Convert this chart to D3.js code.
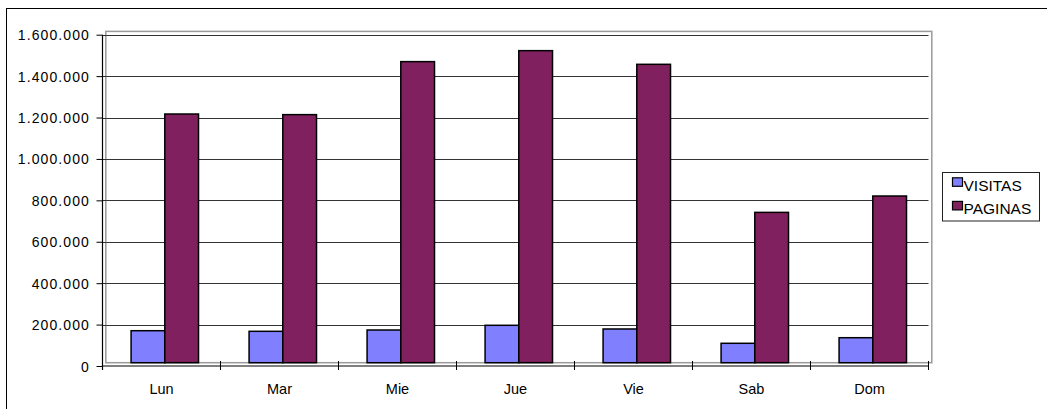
<!DOCTYPE html>
<html>
<head>
<meta charset="utf-8">
<script src="https://cdn.jsdelivr.net/npm/d3@7"></script>
<style>
  body { margin: 0; background: #fff; }
  svg text { font-family: 'Liberation Sans', Arial, sans-serif; fill: #000; }
</style>
</head>
<body>
<svg class="visitasSVG" width="1047" height="409"></svg>
<script>
// values
const days = ['Lun', 'Mar', 'Mie', 'Jue', 'Vie', 'Sab', 'Dom'];
const series = ['VISITAS', 'PAGINAS'];
const visitas = [154500, 151600, 157900, 180600, 162800, 93700, 120700];
const paginas = [1201000, 1198000, 1454000, 1507000, 1441000, 726000, 805000];
const yTicks = [0, 200000, 400000, 600000, 800000, 1000000, 1200000, 1400000, 1600000];

const colors = { VISITAS: '#8080ff', PAGINAS: '#80205f' };

function drawChart(){
  const svg = d3.select('svg.visitasSVG');

  // outer frame (only left and top edges are inside the picture)
  svg.append('rect')
    .attr('x', 6.5).attr('y', 8.5)
    .attr('width', 1200).attr('height', 600)
    .style('fill', 'none').style('stroke', '#000').style('stroke-width', 1);

  const left = 102.5, right = 928.5, top = 34.7, bottom = 366;
  const depth = 3.3; // excel's fake 3d: bars and wall sit up-right of the axes

  const x = d3.scaleBand()
    .domain(days)
    .range([left, right])
    .paddingInner(3 / 7)
    .paddingOuter(1.5 / 7);

  const xSub = d3.scaleBand()
    .domain(series)
    .range([0, x.bandwidth()]);

  const y = d3.scaleLinear()
    .domain([0, 1600000])
    .range([bottom, top]);

  const fmt = d3.formatLocale({ decimal: ',', thousands: '.', grouping: [3], currency: ['', '€'] }).format(',d');

  // back wall
  svg.append('rect')
    .attr('x', left + depth).attr('y', top - depth)
    .attr('width', right - left).attr('height', bottom - top)
    .style('fill', 'none').style('stroke', '#9a9a9a').style('stroke-width', 1.5);

  // gridlines
  svg.append('g')
    .selectAll('line')
    .data(yTicks.filter(d => d > 0))
    .enter()
    .append('line')
    .attr('x1', left).attr('x2', right)
    .attr('y1', d => Math.round(y(d)) + 0.5)
    .attr('y2', d => Math.round(y(d)) + 0.5)
    .style('stroke', '#333').style('stroke-width', 1);

  // bars
  const rows = days.map((d, i) => ({ day: d, VISITAS: visitas[i], PAGINAS: paginas[i] }));

  svg.append('g')
    .attr('transform', `translate(${depth},${-depth})`)
    .selectAll('g')
    .data(rows)
    .enter()
    .append('g')
    .attr('transform', d => `translate(${x(d.day)},0)`)
    .selectAll('rect')
    .data(d => series.map(s => ({ key: s, value: d[s] })))
    .enter()
    .append('rect')
    .attr('x', d => xSub(d.key))
    .attr('y', d => y(d.value))
    .attr('width', xSub.bandwidth())
    .attr('height', d => y(0) - y(d.value))
    .style('fill', d => colors[d.key])
    .style('stroke', '#000')
    .style('stroke-width', 1.5);

  // y axis
  const yAxis = d3.axisLeft(y)
    .tickValues(yTicks)
    .tickFormat(fmt)
    .tickSizeInner(6)
    .tickSizeOuter(0)
    .tickPadding(6.5);

  const yG = svg.append('g')
    .attr('transform', `translate(${left},0)`)
    .call(yAxis);
  yG.select('.domain').remove();
  yG.selectAll('.tick line').style('stroke', '#000');
  yG.selectAll('.tick text')
    .attr('dy', '0.36em')
    .style('font-size', '14px')
    .style('letter-spacing', '1.1px')
    .style('font-family', "'Liberation Sans', Arial, sans-serif");

  svg.append('line')
    .attr('x1', left).attr('x2', left)
    .attr('y1', top).attr('y2', bottom + 4)
    .style('stroke', '#000').style('stroke-width', 1.2);

  // x axis
  svg.append('line')
    .attr('x1', left).attr('x2', right)
    .attr('y1', bottom).attr('y2', bottom)
    .style('stroke', '#000').style('stroke-width', 1.2);

  const step = x.step();
  const bounds = days.map(d => x(d) - step * x.paddingInner() / 2).concat([right]);

  svg.append('g')
    .selectAll('line')
    .data(bounds.slice(1))
    .enter()
    .append('line')
    .attr('x1', d => d).attr('x2', d => d)
    .attr('y1', bottom - 5).attr('y2', bottom + 4)
    .style('stroke', '#000').style('stroke-width', 1);

  svg.append('g')
    .selectAll('text')
    .data(days)
    .enter()
    .append('text')
    .text(d => d)
    .attr('x', d => x(d) + x.bandwidth() / 2)
    .attr('y', 394)
    .style('text-anchor', 'middle')
    .style('font-size', '14.5px');

  // legend
  const legend = svg.append('g').attr('class', 'legend');
  legend.append('rect')
    .attr('x', 942.5).attr('y', 172.5)
    .attr('width', 97).attr('height', 48.5)
    .style('fill', '#fff').style('stroke', '#222').style('stroke-width', 1);

  const items = legend.selectAll('g.item')
    .data(series)
    .enter()
    .append('g')
    .attr('class', 'item')
    .attr('transform', (d, i) => `translate(952.5,${177.8 + i * 23.6})`);

  items.append('rect')
    .attr('width', 10).attr('height', 8.5)
    .style('fill', d => colors[d])
    .style('stroke', '#000').style('stroke-width', 1.2);

  items.append('text')
    .text(d => d)
    .attr('x', 11)
    .attr('y', 12.9)
    .style('font-size', '15.5px');
}

drawChart();
</script>
</body>
</html>
